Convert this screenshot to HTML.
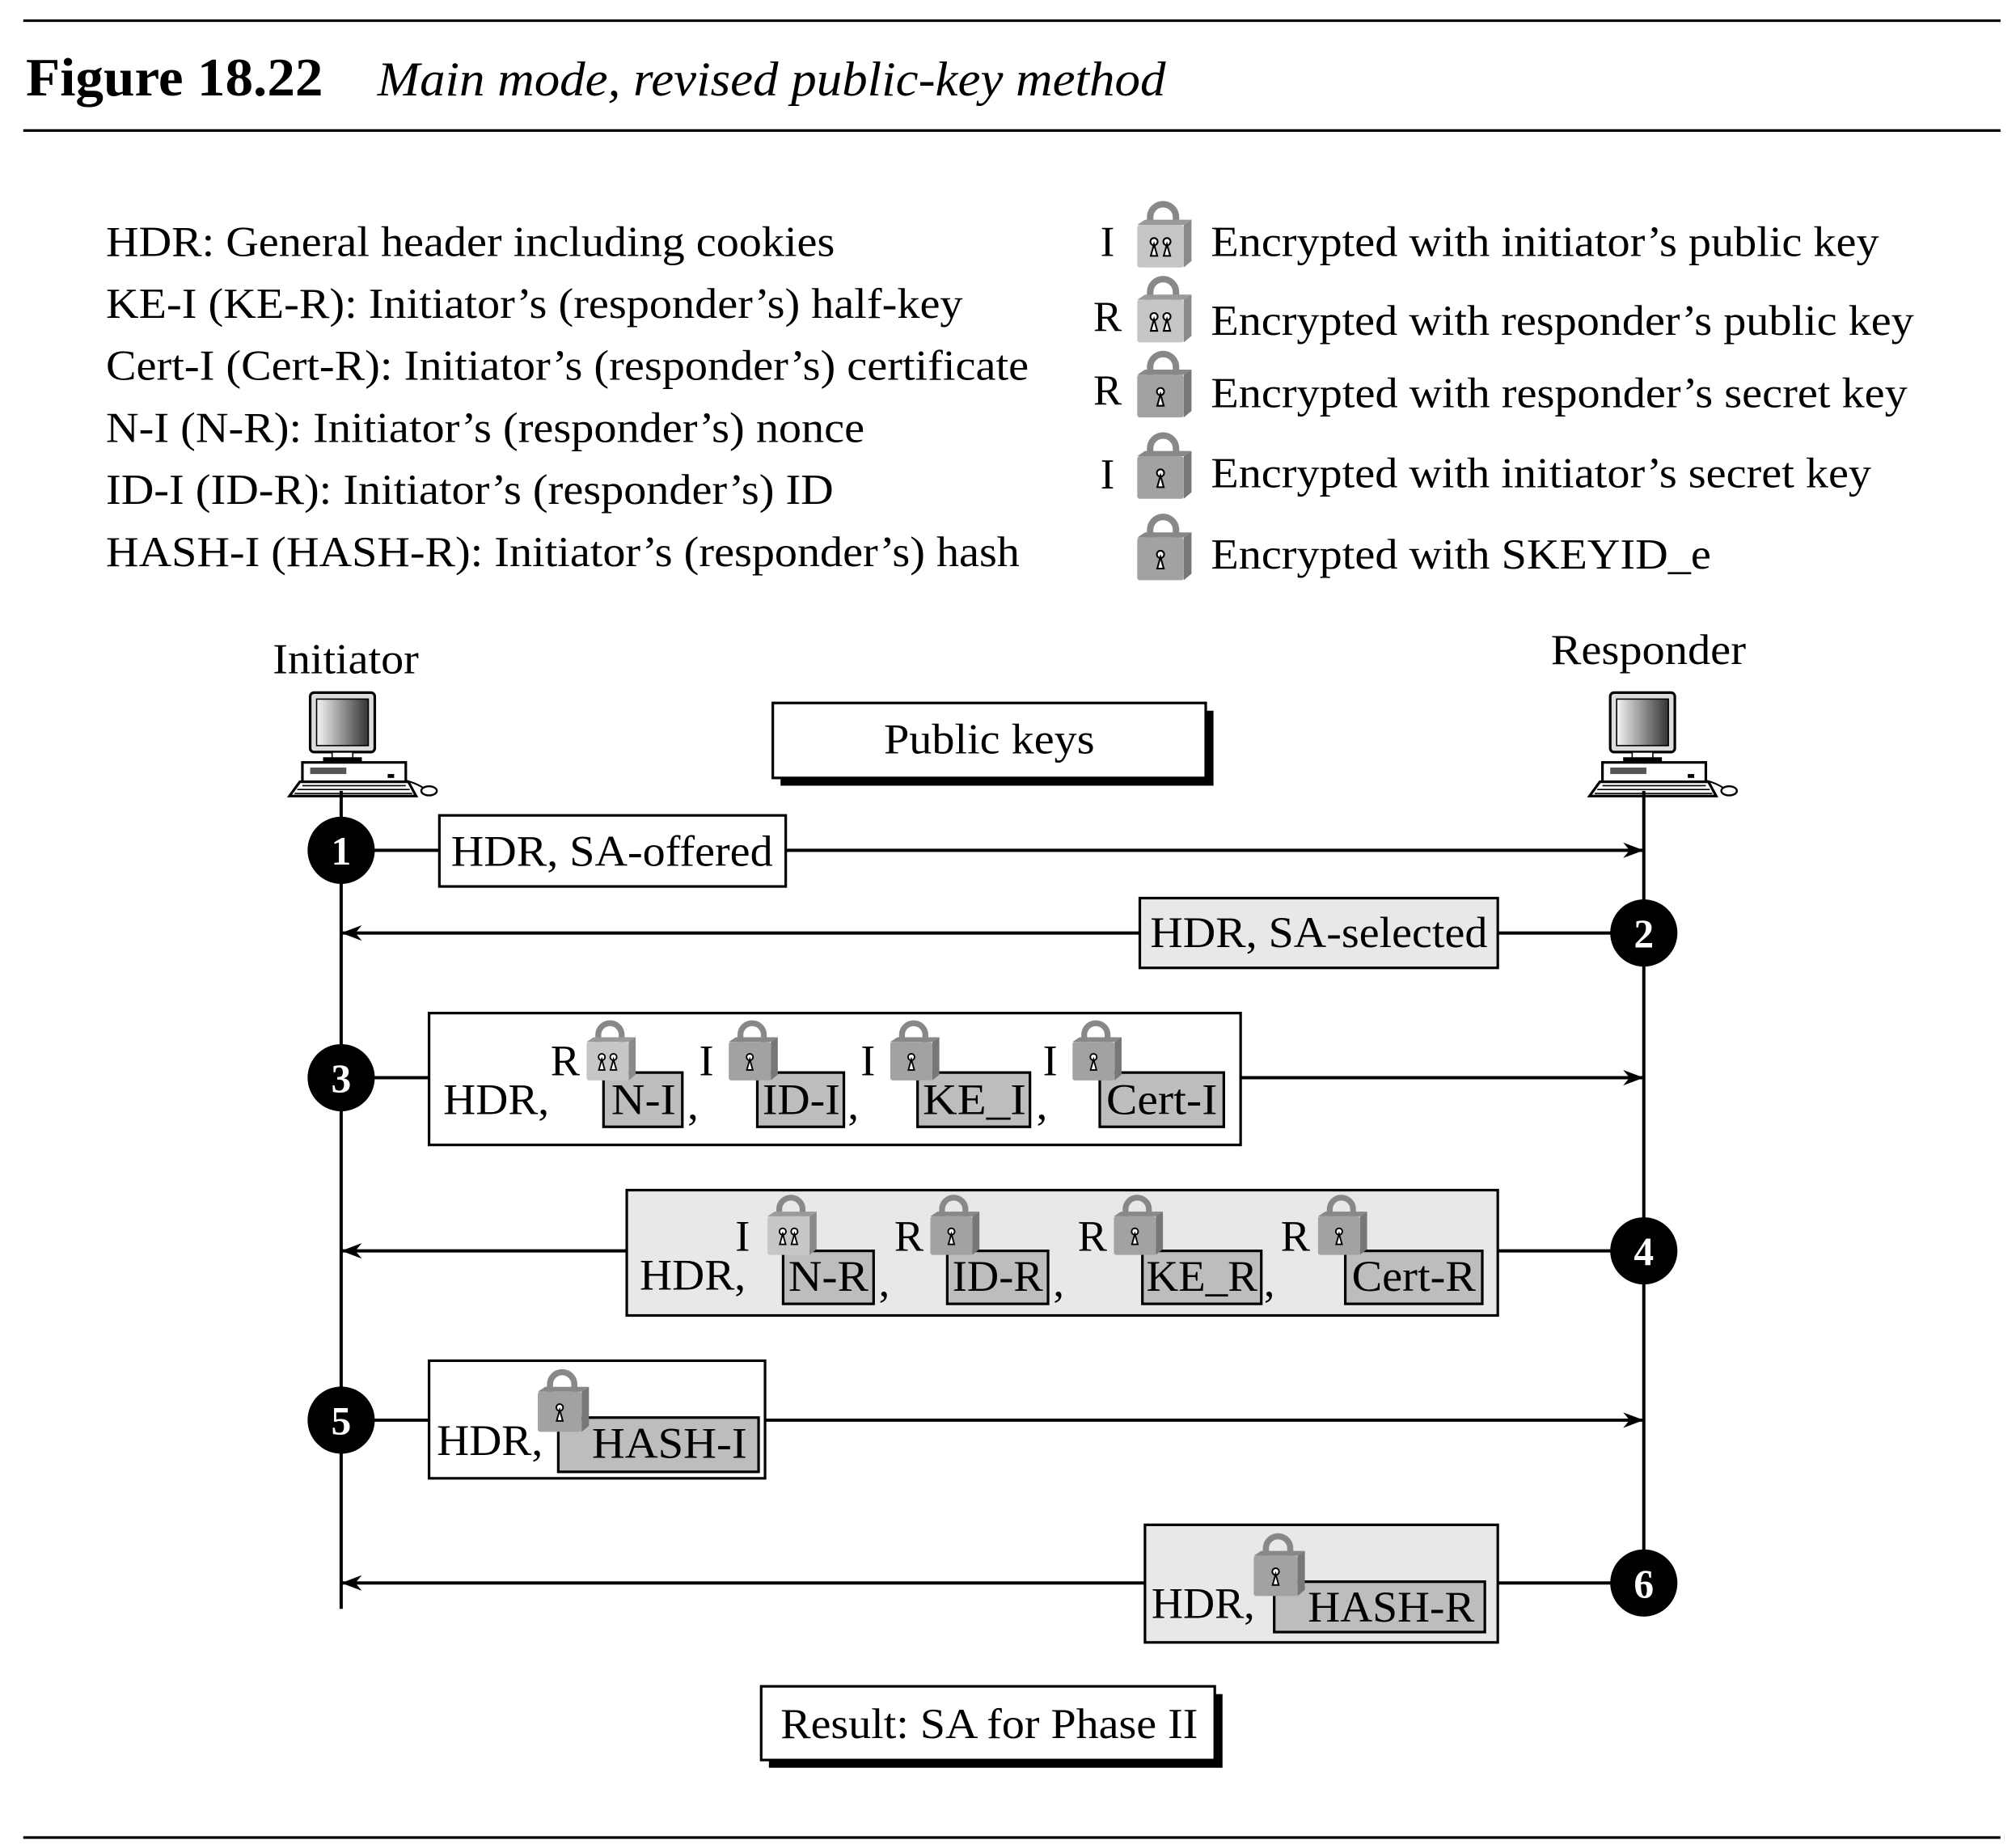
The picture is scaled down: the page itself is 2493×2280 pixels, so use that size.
<!DOCTYPE html>
<html><head><meta charset="utf-8"><style>
html,body{margin:0;padding:0;background:#fff}
svg{display:block}
text{font-family:"Liberation Serif",serif;fill:#000}
</style></head><body>
<svg width="2493" height="2280" viewBox="0 0 1560 1427" preserveAspectRatio="none" xmlns="http://www.w3.org/2000/svg">
<defs>
<linearGradient id="scr" x1="0" x2="1" y1="0" y2="0"><stop offset="0" stop-color="#f4f4f4"/><stop offset="1" stop-color="#333"/></linearGradient>
<symbol id="lockP" viewBox="0 0 44 52" overflow="visible">
<path d="M12 20 V12 A10 10 0 0 1 32 12 V20" fill="none" stroke="#888" stroke-width="5"/>
<polygon points="2,18 8,14 44,14 38,18" fill="#9a9a9a"/>
<polygon points="38,18 44,14 44,46 38,51" fill="#8a8a8a"/>
<rect x="2" y="18" width="36" height="33" rx="2" fill="#c6c6c6"/>
<circle cx="15" cy="31" r="2.8" fill="#fff" stroke="#000" stroke-width="1.3"/><polygon points="15,33 12.5,42 17.5,42" fill="#fff" stroke="#000" stroke-width="1.3"/>
<circle cx="25" cy="31" r="2.8" fill="#fff" stroke="#000" stroke-width="1.3"/><polygon points="25,33 22.5,42 27.5,42" fill="#fff" stroke="#000" stroke-width="1.3"/>
</symbol>
<symbol id="lockS" viewBox="0 0 44 52" overflow="visible">
<path d="M12 20 V12 A10 10 0 0 1 32 12 V20" fill="none" stroke="#888" stroke-width="5"/>
<polygon points="2,18 8,14 44,14 38,18" fill="#888"/>
<polygon points="38,18 44,14 44,46 38,51" fill="#777"/>
<rect x="2" y="18" width="36" height="33" rx="2" fill="#a2a2a2"/>
<circle cx="20" cy="31" r="2.8" fill="#fff" stroke="#000" stroke-width="1.3"/><polygon points="20,33 17.5,42 22.5,42" fill="#fff" stroke="#000" stroke-width="1.3"/>
</symbol>
<symbol id="pc" viewBox="0 0 100 78" overflow="visible">
<rect x="18" y="2" width="50" height="46" rx="3" fill="#ddd" stroke="#000" stroke-width="2"/>
<rect x="23" y="7" width="40" height="36" fill="url(#scr)" stroke="#000" stroke-width="1"/>
<rect x="35" y="48" width="16" height="5" fill="#fff" stroke="#000" stroke-width="1"/>
<rect x="28" y="52" width="30" height="4" fill="#000"/>
<rect x="12" y="56" width="80" height="15" fill="#fff" stroke="#000" stroke-width="2"/>
<rect x="18" y="60" width="28" height="5" fill="#555"/>
<rect x="78" y="65" width="5" height="3" fill="#000"/>
<polygon points="10,71 94,71 100,82 2,82" fill="#fff" stroke="#000" stroke-width="2"/>
<path d="M12 74 H92 M8 77 H95 M6 80 H97" stroke="#000" stroke-width="1"/>
<path d="M92 70 Q100 72 106 76" fill="none" stroke="#000" stroke-width="1.3"/>
<ellipse cx="110" cy="78" rx="6" ry="3.5" fill="#fff" stroke="#000" stroke-width="1.5"/>
</symbol>
<marker id="ar" viewBox="0 0 16 12" refX="16" refY="6" markerWidth="16" markerHeight="12" markerUnits="userSpaceOnUse" orient="auto"><path d="M0 0 L16 6 L0 12 L5 6 Z" fill="#000"/></marker>
</defs>

<line x1="18" y1="16" x2="1548" y2="16" stroke="#000" stroke-width="2"/>
<line x1="18" y1="101" x2="1548" y2="101" stroke="#000" stroke-width="2"/>
<line x1="18" y1="1422" x2="1548" y2="1422" stroke="#000" stroke-width="2"/>
<text x="20" y="74" font-size="42" font-weight="bold" textLength="230" lengthAdjust="spacingAndGlyphs">Figure 18.22</text>
<text x="292" y="74" font-size="38" font-style="italic" textLength="610" lengthAdjust="spacingAndGlyphs">Main mode, revised public-key method</text>

<g font-size="33">
<text x="82" y="198" textLength="564" lengthAdjust="spacingAndGlyphs">HDR: General header including cookies</text>
<text x="82" y="246" textLength="663" lengthAdjust="spacingAndGlyphs">KE-I (KE-R): Initiator’s (responder’s) half-key</text>
<text x="82" y="294" textLength="714" lengthAdjust="spacingAndGlyphs">Cert-I (Cert-R): Initiator’s (responder’s) certificate</text>
<text x="82" y="342" textLength="587" lengthAdjust="spacingAndGlyphs">N-I (N-R): Initiator’s (responder’s) nonce</text>
<text x="82" y="390" textLength="563" lengthAdjust="spacingAndGlyphs">ID-I (ID-R): Initiator’s (responder’s) ID</text>
<text x="82" y="438" textLength="707" lengthAdjust="spacingAndGlyphs">HASH-I (HASH-R): Initiator’s (responder’s) hash</text>
<text x="857" y="198" text-anchor="middle">I</text>
<text x="857" y="256" text-anchor="middle">R</text>
<text x="857" y="313" text-anchor="middle">R</text>
<text x="857" y="378" text-anchor="middle">I</text>
<text x="937" y="198" textLength="517" lengthAdjust="spacingAndGlyphs">Encrypted with initiator’s public key</text>
<text x="937" y="259" textLength="544" lengthAdjust="spacingAndGlyphs">Encrypted with responder’s public key</text>
<text x="937" y="315" textLength="539" lengthAdjust="spacingAndGlyphs">Encrypted with responder’s secret key</text>
<text x="937" y="377" textLength="511" lengthAdjust="spacingAndGlyphs">Encrypted with initiator’s secret key</text>
<text x="937" y="440" textLength="387" lengthAdjust="spacingAndGlyphs">Encrypted with SKEYID_e</text>
</g>
<use href="#lockP" x="878" y="156" width="44" height="52"/>
<use href="#lockP" x="878" y="214" width="44" height="52"/>
<use href="#lockS" x="878" y="272" width="44" height="52"/>
<use href="#lockS" x="878" y="335" width="44" height="52"/>
<use href="#lockS" x="878" y="398" width="44" height="52"/>

<text x="211" y="521" font-size="33" textLength="113" lengthAdjust="spacingAndGlyphs">Initiator</text>
<text x="1200" y="514" font-size="33" textLength="151" lengthAdjust="spacingAndGlyphs">Responder</text>
<use href="#pc" x="222" y="534" width="100" height="78"/>
<use href="#pc" x="1228" y="534" width="100" height="78"/>

<line x1="264" y1="612" x2="264" y2="1245" stroke="#000" stroke-width="2.5"/>
<line x1="1272" y1="612" x2="1272" y2="1225" stroke="#000" stroke-width="2.5"/>

<rect x="604" y="550" width="335" height="58" fill="#000"/>
<rect x="598" y="544" width="335" height="58" fill="#fff" stroke="#000" stroke-width="2"/>
<text x="684" y="583" font-size="33" textLength="163" lengthAdjust="spacingAndGlyphs">Public keys</text>

<g stroke="#000" stroke-width="2.5" fill="none">
<line x1="264" y1="658" x2="1272" y2="658" marker-end="url(#ar)"/>
<line x1="1272" y1="722" x2="264" y2="722" marker-end="url(#ar)"/>
<line x1="264" y1="834" x2="1272" y2="834" marker-end="url(#ar)"/>
<line x1="1272" y1="968" x2="264" y2="968" marker-end="url(#ar)"/>
<line x1="264" y1="1099" x2="1272" y2="1099" marker-end="url(#ar)"/>
<line x1="1272" y1="1225" x2="264" y2="1225" marker-end="url(#ar)"/>
</g>

<!-- step 1 -->
<rect x="340" y="631" width="268" height="55" fill="#fff" stroke="#000" stroke-width="2"/>
<text x="349" y="670" font-size="34" textLength="249" lengthAdjust="spacingAndGlyphs">HDR, SA-offered</text>
<!-- step 2 -->
<rect x="882" y="695" width="277" height="54" fill="#e8e8e8" stroke="#000" stroke-width="2"/>
<text x="890" y="733" font-size="34" textLength="261" lengthAdjust="spacingAndGlyphs">HDR, SA-selected</text>
<!-- step 3 -->
<rect x="332" y="784" width="628" height="102" fill="#fff" stroke="#000" stroke-width="2"/>
<g font-size="34">
<text x="343" y="862" textLength="82" lengthAdjust="spacingAndGlyphs">HDR,</text>
<rect x="467" y="830" width="61" height="42" fill="#bdbdbd" stroke="#000" stroke-width="2"/><text x="473" y="862" textLength="50" lengthAdjust="spacingAndGlyphs">N-I</text><text x="532" y="866">,</text>
<rect x="586" y="830" width="67" height="42" fill="#bdbdbd" stroke="#000" stroke-width="2"/><text x="590" y="862" textLength="60" lengthAdjust="spacingAndGlyphs">ID-I</text><text x="656" y="866">,</text>
<rect x="710" y="830" width="87" height="42" fill="#bdbdbd" stroke="#000" stroke-width="2"/><text x="714" y="862" textLength="80" lengthAdjust="spacingAndGlyphs">KE_I</text><text x="802" y="866">,</text>
<rect x="851" y="830" width="96" height="42" fill="#bdbdbd" stroke="#000" stroke-width="2"/><text x="856" y="862" textLength="86" lengthAdjust="spacingAndGlyphs">Cert-I</text>
<text x="426" y="832">R</text><text x="541" y="832">I</text><text x="666" y="832">I</text><text x="807" y="832">I</text>
</g>
<use href="#lockP" x="452" y="790" width="40" height="47"/>
<use href="#lockS" x="562" y="790" width="40" height="47"/>
<use href="#lockS" x="687" y="790" width="40" height="47"/>
<use href="#lockS" x="828" y="790" width="40" height="47"/>
<!-- step 4 -->
<rect x="485" y="921" width="674" height="97" fill="#e8e8e8" stroke="#000" stroke-width="2"/>
<g font-size="34">
<text x="495" y="998" textLength="82" lengthAdjust="spacingAndGlyphs">HDR,</text>
<rect x="606" y="968" width="70" height="41" fill="#bdbdbd" stroke="#000" stroke-width="2"/><text x="610" y="999" textLength="62" lengthAdjust="spacingAndGlyphs">N-R</text><text x="680" y="1003">,</text>
<rect x="733" y="968" width="78" height="41" fill="#bdbdbd" stroke="#000" stroke-width="2"/><text x="737" y="999" textLength="70" lengthAdjust="spacingAndGlyphs">ID-R</text><text x="815" y="1003">,</text>
<rect x="884" y="968" width="92" height="41" fill="#bdbdbd" stroke="#000" stroke-width="2"/><text x="887" y="999" textLength="86" lengthAdjust="spacingAndGlyphs">KE_R</text><text x="978" y="1003">,</text>
<rect x="1041" y="968" width="106" height="41" fill="#bdbdbd" stroke="#000" stroke-width="2"/><text x="1046" y="999" textLength="96" lengthAdjust="spacingAndGlyphs">Cert-R</text>
<text x="569" y="968">I</text><text x="692" y="968">R</text><text x="834" y="968">R</text><text x="991" y="968">R</text>
</g>
<use href="#lockP" x="592" y="925" width="40" height="47"/>
<use href="#lockS" x="718" y="925" width="40" height="47"/>
<use href="#lockS" x="860" y="925" width="40" height="47"/>
<use href="#lockS" x="1018" y="925" width="40" height="47"/>
<!-- step 5 -->
<rect x="332" y="1053" width="260" height="91" fill="#fff" stroke="#000" stroke-width="2"/>
<rect x="432" y="1097" width="155" height="42" fill="#bdbdbd" stroke="#000" stroke-width="2"/>
<text x="338" y="1126" font-size="34" textLength="82" lengthAdjust="spacingAndGlyphs">HDR,</text>
<text x="458" y="1128" font-size="34" textLength="120" lengthAdjust="spacingAndGlyphs">HASH-I</text>
<use href="#lockS" x="414" y="1060" width="42" height="49"/>
<!-- step 6 -->
<rect x="886" y="1180" width="273" height="91" fill="#e8e8e8" stroke="#000" stroke-width="2"/>
<rect x="986" y="1224" width="163" height="39" fill="#bdbdbd" stroke="#000" stroke-width="2"/>
<text x="891" y="1252" font-size="34" textLength="80" lengthAdjust="spacingAndGlyphs">HDR,</text>
<text x="1012" y="1255" font-size="34" textLength="129" lengthAdjust="spacingAndGlyphs">HASH-R</text>
<use href="#lockS" x="968" y="1187" width="42" height="49"/>

<!-- circles -->
<g font-size="31" font-weight="bold" text-anchor="middle">
<circle cx="264" cy="658" r="26"/><text x="264" y="669" style="fill:#fff">1</text>
<circle cx="1272" cy="722" r="26"/><text x="1272" y="733" style="fill:#fff">2</text>
<circle cx="264" cy="834" r="26"/><text x="264" y="845" style="fill:#fff">3</text>
<circle cx="1272" cy="968" r="26"/><text x="1272" y="979" style="fill:#fff">4</text>
<circle cx="264" cy="1099" r="26"/><text x="264" y="1110" style="fill:#fff">5</text>
<circle cx="1272" cy="1225" r="26"/><text x="1272" y="1236" style="fill:#fff">6</text>
</g>

<rect x="595" y="1311" width="351" height="57" fill="#000"/>
<rect x="589" y="1305" width="351" height="57" fill="#fff" stroke="#000" stroke-width="2"/>
<text x="604" y="1345" font-size="33" textLength="323" lengthAdjust="spacingAndGlyphs">Result: SA for Phase II</text>
</svg>
</body></html>
